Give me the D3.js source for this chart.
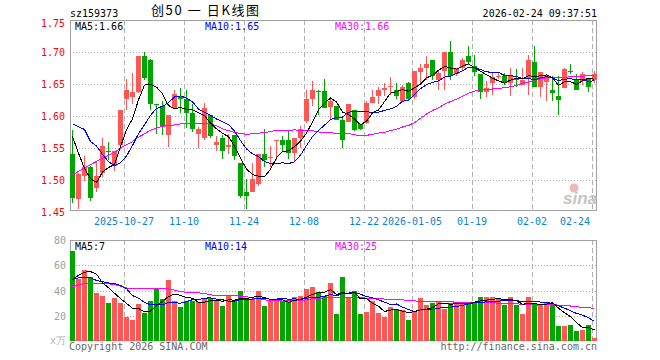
<!DOCTYPE html>
<html>
<head>
<meta charset="utf-8">
<script src="https://cdn.jsdelivr.net/npm/d3@7"></script>
<style>
  body { margin: 0; background: #fff; }
  text { font-family: "DejaVu Sans Mono", monospace; font-size: 10px; }
</style>
</head>
<body>
<svg id="chart"></svg>
<script>
// Données
const dates = [
  "2025-10-14","2025-10-15","2025-10-16","2025-10-17","2025-10-20","2025-10-21","2025-10-22","2025-10-23","2025-10-24",
  "2025-10-27","2025-10-28","2025-10-29","2025-10-30","2025-10-31",
  "2025-11-03","2025-11-04","2025-11-05","2025-11-06","2025-11-07","2025-11-10","2025-11-11","2025-11-12","2025-11-13","2025-11-14",
  "2025-11-17","2025-11-18","2025-11-19","2025-11-20","2025-11-21","2025-11-24","2025-11-25","2025-11-26","2025-11-27","2025-11-28",
  "2025-12-01","2025-12-02","2025-12-03","2025-12-04","2025-12-05","2025-12-08","2025-12-09","2025-12-10","2025-12-11","2025-12-12",
  "2025-12-15","2025-12-16","2025-12-17","2025-12-18","2025-12-19","2025-12-22","2025-12-23","2025-12-24","2025-12-25","2025-12-26",
  "2025-12-29","2025-12-30","2025-12-31",
  "2026-01-05","2026-01-06","2026-01-07","2026-01-08","2026-01-09","2026-01-12","2026-01-13","2026-01-14","2026-01-15","2026-01-16",
  "2026-01-19","2026-01-20","2026-01-21","2026-01-22","2026-01-23","2026-01-26","2026-01-27","2026-01-28","2026-01-29","2026-01-30",
  "2026-02-02","2026-02-03","2026-02-04","2026-02-05","2026-02-06","2026-02-09","2026-02-10","2026-02-11","2026-02-12","2026-02-13",
  "2026-02-24"
];

const open = [
  1.540,1.471,1.507,1.521,1.488,1.511,1.546,1.522,1.554,1.626,1.629,1.638,1.694,1.688,1.618,1.615,1.571,1.612,1.629,1.626,
  1.604,1.572,1.565,1.601,1.555,1.565,1.552,1.571,1.526,1.481,1.482,1.493,1.541,1.534,1.562,1.562,1.563,1.542,1.566,1.592,
  1.626,1.639,1.639,1.614,1.615,1.593,1.590,1.610,1.587,1.589,1.621,1.632,1.641,1.646,1.641,1.623,1.652,1.629,1.669,1.675,
  1.688,1.657,1.670,1.700,1.666,1.675,1.693,1.678,1.666,1.638,1.651,1.661,1.663,1.652,1.658,1.649,1.660,1.684,1.646,1.653,
  1.640,1.632,1.644,1.671,1.658,1.654,1.658,1.657
];
const high = [
  1.578,1.511,1.538,1.522,1.529,1.566,1.560,1.546,1.610,1.658,1.667,1.693,1.700,1.689,1.619,1.624,1.602,1.641,1.644,1.641,
  1.618,1.583,1.620,1.601,1.568,1.571,1.572,1.571,1.526,1.501,1.527,1.540,1.580,1.553,1.563,1.568,1.576,1.565,1.585,1.640,
  1.654,1.641,1.658,1.626,1.615,1.597,1.618,1.610,1.588,1.624,1.641,1.646,1.652,1.661,1.652,1.649,1.653,1.670,1.682,1.694,
  1.688,1.672,1.700,1.717,1.675,1.691,1.710,1.696,1.666,1.654,1.669,1.667,1.667,1.675,1.674,1.675,1.696,1.710,1.668,1.664,
  1.662,1.662,1.675,1.682,1.665,1.668,1.660,1.671
];
const low = [
  1.464,1.455,1.498,1.467,1.481,1.505,1.532,1.514,1.552,1.610,1.618,1.636,1.656,1.609,1.572,1.571,1.551,1.611,1.605,1.581,
  1.575,1.550,1.562,1.565,1.546,1.533,1.540,1.531,1.472,1.454,1.482,1.490,1.521,1.521,1.532,1.545,1.533,1.529,1.550,1.589,
  1.615,1.602,1.612,1.594,1.594,1.550,1.590,1.577,1.578,1.588,1.621,1.618,1.631,1.633,1.626,1.623,1.623,1.627,1.649,1.657,
  1.657,1.641,1.641,1.656,1.662,1.672,1.680,1.663,1.627,1.630,1.633,1.658,1.649,1.631,1.646,1.648,1.633,1.645,1.630,1.624,
  1.624,1.602,1.643,1.665,1.641,1.648,1.637,1.652
];
const close = [
  1.472,1.510,1.520,1.472,1.507,1.553,1.545,1.545,1.610,1.640,1.638,1.693,1.660,1.618,1.617,1.585,1.602,1.635,1.627,1.604,
  1.580,1.580,1.612,1.568,1.560,1.545,1.554,1.537,1.475,1.475,1.502,1.540,1.532,1.536,1.563,1.554,1.542,1.565,1.580,1.626,
  1.640,1.638,1.613,1.624,1.594,1.562,1.618,1.578,1.580,1.620,1.629,1.640,1.643,1.647,1.631,1.646,1.626,1.670,1.675,1.682,
  1.663,1.667,1.700,1.663,1.673,1.687,1.684,1.669,1.638,1.644,1.661,1.662,1.652,1.662,1.657,1.657,1.687,1.645,1.668,1.664,
  1.636,1.625,1.674,1.670,1.641,1.665,1.646,1.665
];
// volume en 万
const volume = [
  71,49,56,51,38,36,30,34,30,19,16.5,29,22,32,41,33,48,32,27,31.5,
  31.5,30.5,33,34,32,28,36,32,39.5,33,33,39.5,27.5,31.5,32,32,31,34.5,35.5,41,
  42.5,38.5,35.5,46,21.5,50.5,34,39.5,21.5,23,31.5,22,19,27,25.5,24.5,16.5,23,34,28.5,
  30,31.5,25.5,30,31,31,31,31,34.5,34.5,34.5,33,28.5,34.5,28.5,21.5,34.5,30,28.5,31,
  28.5,12,12,12.5,8,8.5,12.5,2.5
];

// valeurs des moyennes mobiles avant la première bougie
const ma5Head = [1.568, 1.542, 1.518, 1.502];
const ma10Head = [1.588, 1.583, 1.579, 1.560, 1.553, 1.540, 1.529, 1.522, 1.527];
const ma30Head = [1.508, 1.5135, 1.519, 1.524, 1.529, 1.534, 1.539, 1.543, 1.550, 1.555, 1.560, 1.567, 1.572, 1.578, 1.581,
  1.584, 1.585, 1.586, 1.5875, 1.588, 1.5885, 1.589, 1.589, 1.5875, 1.585, 1.580, 1.577, 1.5745, 1.5725];
const vma5Head = [48.7, 52, 54.5, 55];
const vma10Head = [48.7, 50, 50.3, 50, 48, 47, 46, 45.5, 44];
const vma30Head = [42.9, 44.5, 45.5, 45.5, 45.5, 45.5, 45.3, 44.7, 43.5, 42, 41.6, 41.6, 41.6, 41.6, 41.6,
  41.6, 41.3, 40.3, 39, 38.7, 38.4, 38.2, 37.6, 36.6, 36, 36, 35.8, 35.8, 35.5];

const tickDates = ["2025-10-27","2025-11-10","2025-11-24","2025-12-08","2025-12-22","2026-01-05","2026-01-19","2026-02-02","2026-02-24"];
const tickLabels = ["2025-10-27","11-10","11-24","12-08","12-22","2026-01-05","01-19","02-02","02-24"];
const priceTicks = [1.45, 1.50, 1.55, 1.60, 1.65, 1.70, 1.75];
const volumeTicks = [20, 40, 60, 80];
const priceLegend = ["MA5:1.66", "MA10:1.65", "MA30:1.66"];
const volumeLegend = ["MA5:7", "MA10:14", "MA30:25"];

const width = 660, height = 360;
const left = 70, right = 597;
const colorUp = "#ff5656", colorDown = "#00a600";
const maColors = ["#000000", "#0000ff", "#ff00ff"];
const frameColor = "#a0a0a0";

const svg = d3.select("#chart")
    .attr("width", width)
    .attr("height", height)
    .attr("shape-rendering", "crispEdges");

svg.append("rect").attr("width", width).attr("height", height).attr("fill", "#fff");

const xScale = d3.scaleBand()
    .domain(dates)
    .range([left, right])
    .paddingInner(1 / 6)
    .paddingOuter(0);

const yPrice = d3.scaleLinear().domain([1.45, 1.75]).range([212, 20]);
const yVol = d3.scaleLinear().domain([0, 80]).range([341, 240]);

const panels = [
    { top: 20, bottom: 211, y: yPrice },
    { top: 240, bottom: 341, y: yVol }
];

// moyenne mobile
function movingAverage(values, n, head) {
    return values.map((v, i) => i < n - 1 ? head[i] : d3.mean(values.slice(i - n + 1, i + 1)));
}

// Grilles
panels.forEach((p, k) => {
    const ticks = k === 0 ? priceTicks.slice(1, -1) : volumeTicks.slice(0, -1);
    svg.append("g").selectAll("line")
        .data(ticks)
        .join("line")
        .attr("x1", left).attr("x2", right)
        .attr("y1", d => Math.round(p.y(d)) + 0.5)
        .attr("y2", d => Math.round(p.y(d)) + 0.5)
        .attr("stroke", "#a8a8a8")
        .attr("stroke-dasharray", "1,2");

    svg.append("g").selectAll("line")
        .data(tickDates)
        .join("line")
        .attr("x1", d => xScale(d) + 0.5).attr("x2", d => xScale(d) + 0.5)
        .attr("y1", p.top).attr("y2", p.bottom)
        .attr("stroke", "#b0b0b0")
        .attr("stroke-dasharray", "5,3");

    svg.append("rect")
        .attr("x", left + 0.5).attr("y", p.top + 0.5)
        .attr("width", right - left - 1).attr("height", p.bottom - p.top - 1)
        .attr("fill", "none")
        .attr("stroke", frameColor);
});

// Logo sina
const logo = svg.append("g").attr("shape-rendering", "auto");
logo.append("circle").attr("cx", 574).attr("cy", 188).attr("r", 4.5).attr("fill", "#f5b5b5");
logo.append("circle").attr("cx", 573).attr("cy", 189).attr("r", 1.6).attr("fill", "#c8c8c8");
logo.append("text")
    .attr("x", 563).attr("y", 204)
    .style("font-family", "Liberation Sans, sans-serif")
    .style("font-size", "17px")
    .style("font-weight", "bold")
    .style("font-style", "italic")
    .attr("fill", "#c4c4c4")
    .text("sina");

// Bougies
const idx = d3.range(dates.length);
const candles = svg.append("g");
candles.selectAll("line")
    .data(idx)
    .join("line")
    .attr("x1", i => xScale(dates[i]) + 2.5)
    .attr("x2", i => xScale(dates[i]) + 2.5)
    .attr("y1", i => yPrice(high[i]))
    .attr("y2", i => yPrice(low[i]))
    .attr("stroke", i => close[i] >= open[i] ? colorUp : colorDown);

candles.selectAll("rect")
    .data(idx)
    .join("rect")
    .attr("x", i => xScale(dates[i]))
    .attr("width", xScale.bandwidth())
    .attr("y", i => yPrice(Math.max(open[i], close[i])))
    .attr("height", i => Math.max(1, Math.abs(yPrice(open[i]) - yPrice(close[i]))))
    .attr("fill", i => close[i] >= open[i] ? colorUp : colorDown);

// Volume
svg.append("g").selectAll("rect")
    .data(idx)
    .join("rect")
    .attr("x", i => xScale(dates[i]))
    .attr("width", xScale.bandwidth())
    .attr("y", i => yVol(volume[i]))
    .attr("height", i => yVol(0) - yVol(volume[i]))
    .attr("fill", i => close[i] >= open[i] ? colorUp : colorDown);

// Moyennes mobiles
const priceMA = [
    movingAverage(close, 5, ma5Head),
    movingAverage(close, 10, ma10Head),
    movingAverage(close, 30, ma30Head)
];
const volMA = [
    movingAverage(volume, 5, vma5Head),
    movingAverage(volume, 10, vma10Head),
    movingAverage(volume, 30, vma30Head)
];

function drawLines(series, yScale) {
    const line = d3.line()
        .x((d, i) => xScale(dates[i]) + 2.5)
        .y(d => yScale(d));
    svg.append("g").selectAll("path")
        .data(series.slice().reverse())
        .join("path")
        .attr("d", line)
        .attr("fill", "none")
        .attr("stroke", (d, k) => maColors[2 - k])
        .attr("stroke-width", 1);
}
drawLines(priceMA, yPrice);
drawLines(volMA, yVol);

// Axes
const priceAxis = svg.append("g")
    .attr("transform", `translate(${left},0)`)
    .call(d3.axisLeft(yPrice).tickValues(priceTicks).tickSize(0).tickPadding(5).tickFormat(d3.format(".2f")));
priceAxis.select(".domain").remove();
priceAxis.selectAll("text")
    .attr("fill", "#ff0000")
    .style("font-family", "DejaVu Sans Mono, monospace")
    .style("font-size", "10px")
    .attr("dy", d => d === 1.75 ? "0.62em" : "0.36em");

const volAxis = svg.append("g")
    .attr("transform", `translate(${left},0)`)
    .call(d3.axisLeft(yVol).tickValues(volumeTicks).tickSize(0).tickPadding(4));
volAxis.select(".domain").remove();
volAxis.selectAll("text")
    .attr("fill", "#a0a0a0")
    .style("font-family", "DejaVu Sans Mono, monospace")
    .style("font-size", "10px")
    .attr("dy", "0.36em");

svg.append("text")
    .attr("x", 66).attr("y", 344)
    .attr("text-anchor", "end")
    .attr("fill", "#b4b4b4")
    .text("x万");

// Dates
svg.append("g").selectAll("text")
    .data(tickDates)
    .join("text")
    .attr("x", d => xScale(d))
    .attr("y", 225)
    .attr("text-anchor", "middle")
    .attr("fill", "#0a84d0")
    .text((d, i) => tickLabels[i])
    .each(function(d) {
        const w = this.getComputedTextLength();
        if (xScale(d) + w / 2 > right - 2) {
            d3.select(this).attr("text-anchor", "end").attr("x", right - 7);
        }
    });

// Légendes
const legendX = [75, 205, 335];
[[priceLegend, 29.5], [volumeLegend, 249.5]].forEach(([labels, y]) => {
    svg.append("g").selectAll("text")
        .data(labels)
        .join("text")
        .attr("x", (d, i) => legendX[i])
        .attr("y", y)
        .attr("fill", (d, i) => maColors[i])
        .text(d => d);
});

// Titres
svg.append("text").attr("x", 70).attr("y", 16.5).attr("fill", "#000").text("sz159373");
svg.append("text")
    .attr("x", 151).attr("y", 15)
    .attr("textLength", 108)
    .attr("lengthAdjust", "spacing")
    .style("font-family", "Noto Sans CJK SC, sans-serif")
    .style("font-size", "13px")
    .attr("fill", "#000")
    .text("创50 一 日K线图");
svg.append("text").attr("x", right).attr("y", 16.5).attr("text-anchor", "end").attr("fill", "#000").text("2026-02-24 09:37:51");

svg.append("text").attr("x", 69).attr("y", 349.5).attr("fill", "#666").text("Copyright 2026 SINA.COM");
svg.append("text").attr("x", right).attr("y", 349.5).attr("text-anchor", "end").attr("fill", "#666").text("http://finance.sina.com.cn");
</script>
</body>
</html>
